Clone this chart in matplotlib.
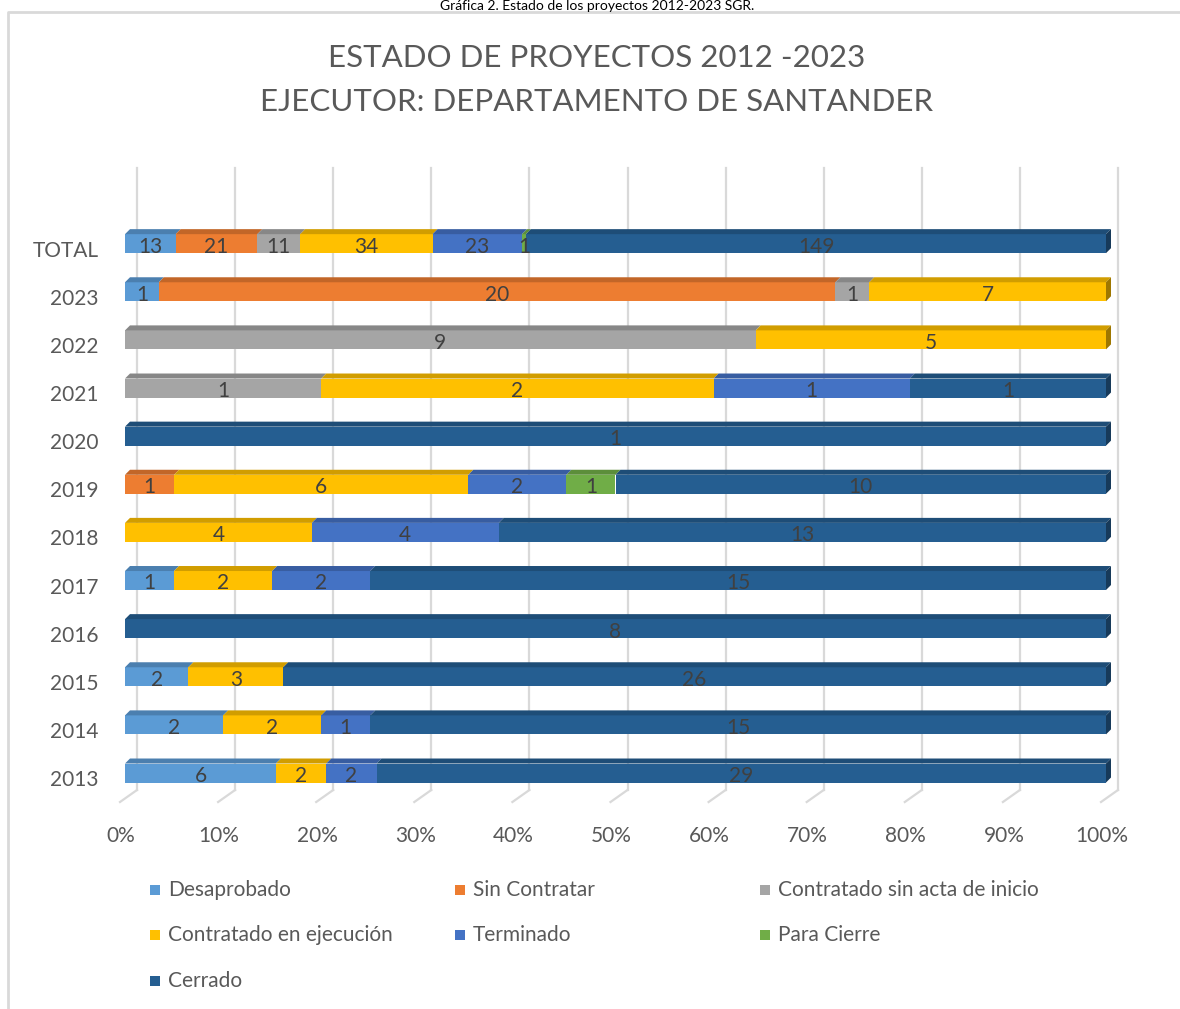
import numpy as np
import matplotlib.pyplot as plt
import matplotlib.transforms as mtransforms
from matplotlib.patches import Polygon, Rectangle
from matplotlib.colors import to_rgb

plt.rcParams['font.family'] = ['Lato', 'DejaVu Sans']

years = ['2013', '2014', '2015', '2016', '2017', '2018', '2019',
         '2020', '2021', '2022', '2023', 'TOTAL']
series = ['Desaprobado', 'Sin Contratar', 'Contratado sin acta de inicio',
          'Contratado en ejecución', 'Terminado', 'Para Cierre', 'Cerrado']
colors = ['#5B9BD5', '#ED7D31', '#A5A5A5', '#FFC000', '#4472C4', '#70AD47', '#255E91']

desaprobado   = [6, 2, 2, 0, 1, 0, 0, 0, 0, 0, 1, 13]
sin_contratar = [0, 0, 0, 0, 0, 0, 1, 0, 0, 0, 20, 21]
sin_acta      = [0, 0, 0, 0, 0, 0, 0, 0, 1, 9, 1, 11]
en_ejecucion  = [2, 2, 3, 0, 2, 4, 6, 0, 2, 5, 7, 34]
terminado     = [2, 1, 0, 0, 2, 4, 2, 0, 1, 0, 0, 23]
para_cierre   = [0, 0, 0, 0, 0, 0, 1, 0, 0, 0, 0, 1]
cerrado       = [29, 15, 26, 8, 15, 13, 10, 1, 1, 0, 0, 149]

counts = np.array([desaprobado, sin_contratar, sin_acta, en_ejecucion,
                   terminado, para_cierre, cerrado], dtype=float)
shares = counts / counts.sum(axis=0)

W, H = 1180, 1009
fig = plt.figure(figsize=(W / 100, H / 100), dpi=100)

# pixel overlay for frame, titles and legend
lax = fig.add_axes([0, 0, 1, 1])
lax.set_xlim(0, W)
lax.set_ylim(H, 0)
lax.axis('off')

ax = fig.add_axes([125 / W, 219 / H, 981 / W, 622 / H])
ax.set_xlim(0, 1)
ax.set_ylim(-0.353, 12.572)
for s in ax.spines.values():
    s.set_visible(False)

px_x = 1 / 981     # one pixel in x data units
px_y = 1 / 48.1    # one pixel in y data units
bar_h = 19 * px_y
dx, dy = 5 * px_x, 5 * px_y
wall = 12 * px_x
grid_col = '#d9d9d9'

ticks = np.linspace(0, 1, 11)
y0, y1 = ax.get_ylim()
for t in ticks:
    ax.plot([t + wall, t + wall], [y0, y1], color=grid_col, lw=1.6, zorder=0, clip_on=False)
    ax.plot([t + wall, t - 5 * px_x], [y0, y0 - 12 * px_y], color=grid_col, lw=1.6,
            zorder=0, clip_on=False)


def shade(c, f):
    return tuple(v * f for v in to_rgb(c))


y = np.arange(len(years))
left = np.zeros(len(years))
for k, name in enumerate(series):
    w = shares[k]
    ax.barh(y, w, left=left, height=bar_h, color=colors[k], zorder=2, clip_on=False)
    for i in range(len(years)):
        if w[i] <= 0:
            continue
        l, r = left[i], left[i] + w[i]
        top = y[i] + bar_h / 2
        ax.add_patch(Polygon([(l, top), (r, top), (r + dx, top + dy), (l + dx, top + dy)],
                             closed=True, color=shade(colors[k], 0.82), lw=0,
                             zorder=2, clip_on=False))
        if r > 0.999:
            bot = y[i] - bar_h / 2
            ax.add_patch(Polygon([(r, bot), (r, top), (r + dx, top + dy), (r + dx, bot + dy)],
                                 closed=True, color=shade(colors[k], 0.62), lw=0,
                                 zorder=2, clip_on=False))
        ax.text((l + r) / 2, y[i] - 0.06, f'{int(counts[k, i])}', ha='center', va='center',
                fontsize=15, color='#404040', zorder=3)
    left = left + w

ax.set_yticks(y, years)
ax.set_xticks(ticks, [f'{int(round(t * 100))}%' for t in ticks])
ax.tick_params(axis='y', length=0, pad=19, labelsize=15, labelcolor='#595959')
ax.tick_params(axis='x', length=0, pad=26, labelsize=15, labelcolor='#595959')
shift_x = mtransforms.ScaledTranslation(-4 / 100, 0, fig.dpi_scale_trans)
for lbl in ax.get_xticklabels():
    lbl.set_transform(lbl.get_transform() + shift_x)
shift_y = mtransforms.ScaledTranslation(0, -5 / 100, fig.dpi_scale_trans)
for lbl in ax.get_yticklabels():
    lbl.set_transform(lbl.get_transform() + shift_y)

# chart frame
lax.plot([8, 8, W], [H, 12, 12], color=grid_col, lw=2)

lax.text(597, 10, 'Gráfica 2. Estado de los proyectos 2012-2023 SGR.', ha='center',
         va='baseline', fontsize=10, color='black')
lax.text(597, 58, 'ESTADO DE PROYECTOS 2012 -2023', ha='center', va='center',
         fontsize=22.5, color='#595959')
lax.text(597, 102, 'EJECUTOR: DEPARTAMENTO DE SANTANDER', ha='center', va='center',
         fontsize=22.5, color='#595959')

# legend, three columns laid out row by row
col_x = [150, 455, 760]
row_y = [890, 935, 981]
for k, name in enumerate(series):
    cx = col_x[k % 3]
    cy = row_y[k // 3]
    lax.add_patch(Rectangle((cx, cy - 5), 10, 10, color=colors[k], lw=0))
    lax.text(cx + 18, cy, name, ha='left', va='center', fontsize=15, color='#595959')

fig.savefig('out.png', dpi=100)
